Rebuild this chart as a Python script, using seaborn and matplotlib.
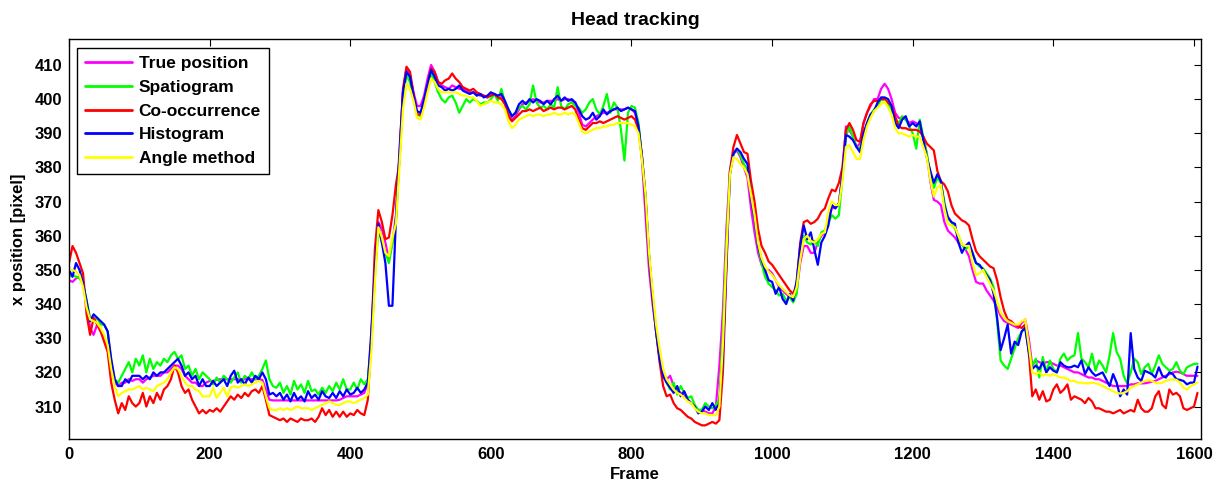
import numpy as np
import pandas as pd
import matplotlib
matplotlib.use("Agg")
import matplotlib.pyplot as plt
import seaborn as sns

# Frame numbers of the sampled head positions
frames = np.arange(0, 1606, 5)

methods = ["True position", "Spatiogram", "Co-occurrence", "Histogram", "Angle method"]
colors = ["#ff00ff", "#00ff00", "#ff0000", "#0000ff", "#ffff00"]

true_position = [
    347, 346.5, 347.5, 348, 346, 340, 333, 331, 334, 332, 330, 327, 321, 317, 316, 317, 317, 318, 317.5, 318,
    318, 317, 318, 318.5, 319, 319, 319, 320, 320, 321, 322, 322, 321, 319, 318, 317, 317, 316, 316, 317,
    317.5, 317.5, 317.8, 318, 318, 318, 318, 318, 318, 318, 318, 318, 318, 318, 318, 317.8, 315, 312, 311.8, 311.8,
    311.8, 311.8, 311.8, 311.8, 311.8, 311.8, 311.8, 311.8, 311.8, 311.8, 311.8, 311.8, 311.8, 311.8, 311.8, 311.8, 311.8, 312, 312.5, 313,
    313, 313, 313, 313.5, 314, 317, 330, 350, 364, 362, 358, 353, 358, 366, 385, 402, 409, 407, 402, 398,
    398, 401, 406, 410, 408, 405, 404, 403.5, 403, 404, 403.5, 403, 403, 402.5, 402, 402, 401.5, 401, 401, 400.5,
    401.5, 401.5, 401, 400.5, 399, 396, 394, 395, 397, 398.5, 399, 399.5, 400, 399.5, 399, 399, 399.5, 399.5, 399.5, 400,
    399.5, 400, 400, 399.5, 399, 396, 392.5, 392, 393, 394, 395, 395.5, 396, 396, 396.5, 397, 397, 397, 397, 397.5,
    397, 396, 392, 382, 366, 350, 340, 332, 325, 320, 318, 319, 316, 315, 314, 313.5, 312, 311, 310, 309,
    309, 308.5, 308, 308, 310, 322, 338, 362, 379, 384, 385, 383, 380, 377, 368, 361, 355, 351.5, 350, 350,
    349, 347, 345, 344, 343, 342, 341.5, 344, 352, 357, 357, 355, 355, 358, 360, 361, 365, 368, 368.5, 369,
    378, 392, 391, 389, 386, 387, 393, 396, 398, 400, 400, 403, 404.5, 403, 400, 396, 394.5, 394.5, 394, 393,
    393.5, 393, 392, 389, 384, 376, 370.5, 370, 369, 364, 361.5, 360.5, 359.5, 358, 357.5, 356, 354, 350, 346.5, 346,
    346, 344, 342.5, 341, 339, 336.5, 335, 334.5, 334, 333.5, 333, 334.5, 335.5, 330, 322, 323.5, 323, 322.5, 323, 323,
    322.5, 322, 322, 321.5, 321, 320.5, 320, 320, 319.5, 319, 318.5, 318.5, 318, 318, 317.5, 317, 316.5, 316, 316, 316,
    316, 316, 316.5, 316.5, 316.8, 316.8, 316.8, 317, 317.3, 317.5, 318, 318.5, 319, 319.5, 320, 320.2, 320, 319.5, 319, 319,
    319, 319,
]

spatiogram = [
    348, 348.5, 348, 347.5, 346, 341, 336, 335, 336, 334, 334, 332, 323, 318, 317, 319, 321, 323, 320, 324,
    322, 325, 320, 324, 321, 323, 322, 324, 323, 325, 326, 324, 325, 321, 322, 319, 321, 318, 320, 319,
    318, 316.5, 318.5, 317, 319, 318, 317, 318.5, 320, 317, 319, 318, 320, 318, 319, 321, 323.5, 318, 316, 315.5,
    317, 314, 316, 313.5, 317.5, 315, 316.5, 314, 317.5, 314.5, 315, 313.5, 315.5, 314, 316, 314.5, 317, 315, 318, 315,
    315, 317, 315, 318, 316.5, 318, 328, 348, 362, 358, 355, 352, 358, 364, 383, 400, 407, 405, 400, 395.5,
    395, 399, 404, 407.5, 405, 402, 400, 399, 400.5, 401, 399, 396, 398, 400, 399, 400, 399.5, 398.5, 399, 399,
    400, 401.5, 399.5, 403, 399, 397, 395, 396, 397.5, 398, 397, 398.5, 404, 399, 397.5, 398, 397, 398.5, 397.5, 403.5,
    398, 397, 398.5, 399, 398, 397.5, 396, 397, 399, 400, 397, 395.5, 398, 401.5, 396, 399, 397.5, 391, 382, 396,
    398, 397.5, 393, 383, 372, 354, 342, 332, 324, 319, 317, 315, 317, 313.5, 316, 314, 312.5, 313, 310.5, 309,
    309, 311, 310, 309.5, 310.5, 312, 332, 358, 378, 384, 385.5, 383.5, 381, 379, 372, 365, 357, 352, 348, 346,
    345, 344, 342.5, 343, 341, 342, 340.5, 343, 355, 360, 358, 357.5, 358.5, 357, 361, 361.5, 364, 366, 365, 366,
    377, 389, 392, 389, 386, 385.5, 389.5, 393, 395.5, 397, 398, 400, 399.5, 398.5, 397, 394, 393, 395, 394, 392,
    390, 385.5, 394, 389, 384, 378, 374, 377, 375.5, 370, 365, 364, 362, 360, 357.5, 356, 357, 355, 352, 351,
    350.5, 349, 347.5, 345, 335, 323.5, 322, 321, 324, 327, 330, 332, 333, 327, 322, 324, 318.5, 324.5, 320, 323.5,
    321, 320, 324, 325.5, 323.5, 324.5, 325, 331.5, 324, 323, 321.5, 325.5, 320.5, 323.5, 322, 320, 325, 331.5, 326, 324,
    319, 316.8, 320, 324, 323, 319.5, 321.5, 322.5, 319.5, 322, 325, 322.5, 321.5, 320.5, 321, 323, 320.5, 319.5, 321.5, 322,
    322.5, 322.5,
]

co_occurrence = [
    352, 357, 355, 352, 349, 337, 331, 336, 334, 332, 329, 326, 317, 312, 308, 311, 309, 313, 311, 310,
    311, 314, 310, 313, 311, 314, 312, 315, 316, 318, 322, 320, 316, 314, 315, 312, 310, 308, 309, 308,
    309, 308.5, 309.5, 308.5, 310, 311.5, 313, 312, 313.5, 312.5, 314, 313, 314.5, 315, 314, 316, 312, 307.5, 307, 306.5,
    306, 306.5, 305.5, 306.5, 306, 305.5, 306.5, 306, 306, 306.5, 305.5, 307, 309.5, 307.5, 309, 307, 308.5, 307, 308.5, 307,
    308, 307.5, 309, 308, 307.5, 312, 330, 356, 367.5, 364, 359, 359.5, 366, 375, 381.5, 403, 409.5, 408, 401.5, 395.5,
    395.5, 399, 404, 409, 408, 405, 404.5, 405.5, 406, 407.5, 406, 405, 403.5, 403, 402.5, 403, 402, 401.5, 401, 400.5,
    401, 401.5, 400.5, 400, 398.5, 395, 393.5, 394.5, 395.5, 396.5, 396.5, 397, 396.5, 397, 397.5, 396.5, 397, 397.5, 397, 397.5,
    397.5, 397, 397.5, 398, 397, 394, 391.5, 391, 392, 393, 393, 393.5, 393, 393.5, 394, 394.5, 395, 394.5, 394, 394.5,
    395, 394, 391, 383, 371, 354, 342, 332, 323, 316, 313, 313.5, 311, 309.5, 309, 308, 307, 306.5, 305.5, 305,
    304.5, 304.5, 305, 305.5, 305, 306, 320, 350, 379, 386, 389.5, 387, 384.5, 384, 376, 370, 362, 357, 355, 352.5,
    351.5, 350, 348.5, 347, 345.5, 344, 343, 346, 358, 364, 364.5, 363.5, 364, 365, 367, 368, 371, 373.5, 373, 375.5,
    380, 391, 393, 391, 388, 387.5, 393, 396, 398.5, 399.5, 399.5, 400, 400, 399, 398, 395, 392, 391.5, 391.5, 391,
    391, 391, 390.5, 389, 387, 386, 385, 379, 376, 375, 373, 369, 366.5, 365.5, 364.5, 364, 363, 359, 355.5, 354,
    353, 352, 351, 350.5, 347, 342, 338, 335.5, 335, 334, 333.5, 333, 334, 326, 313, 315, 312, 314.5, 311.5, 312,
    315, 316.5, 314, 315, 316.5, 312, 313, 312.5, 312, 311, 312.5, 311.5, 309.5, 309.5, 309, 308.5, 308.5, 308, 308.5, 309,
    308, 308.5, 309, 308.5, 312, 309.5, 308.5, 308.5, 309.5, 313, 314.5, 310.5, 309.5, 315, 313.5, 314, 313, 309.5, 309, 309.5,
    310, 314,
]

histogram = [
    350, 348, 352, 350, 346, 341, 335, 337, 336, 335, 334, 332, 324, 318, 316, 316, 318, 317, 319, 319,
    319, 318, 319, 318, 320, 319, 320, 320, 321, 322, 323, 324, 322, 319, 320, 318, 319, 316, 318, 316,
    316, 317.5, 316, 317, 318, 316, 319, 320.5, 317, 318, 316.5, 318.5, 317, 319, 318, 320, 318, 313.5, 314, 313,
    314, 312, 313.5, 311.5, 314, 312, 313, 311.5, 314.5, 312.5, 313.5, 312, 314.5, 313, 312.5, 314, 312.5, 314.5, 313, 315,
    313.5, 314, 315.5, 314, 315, 317, 332, 350, 363.5, 358, 352, 339.5, 339.5, 365, 384, 402, 408, 406.5, 401, 396.5,
    396, 400, 404.5, 408.5, 406.5, 404, 403.5, 402.5, 403, 402.5, 403, 404, 402.5, 402, 401.5, 402, 401, 401.5, 400.5, 401,
    402, 401.5, 401, 401.5, 399.5, 397, 395, 396, 398.5, 399.5, 398.5, 400, 399, 400, 399.5, 398.5, 399.5, 398.5, 400, 401,
    399.5, 400.5, 399.5, 400, 399, 397, 395, 394, 394.5, 396, 394, 395, 397, 395.5, 396.5, 397, 397.5, 396.5, 397, 397.5,
    397, 396.5, 392, 383, 371, 354, 342, 332, 324, 319, 317, 315.5, 314, 316, 313, 314.5, 312, 311, 310, 308,
    308.5, 310, 309, 311, 309, 311, 325, 352, 378, 384, 385.5, 384.5, 382.5, 381, 371, 365, 357, 353, 350, 347,
    346.5, 343, 345, 341.5, 340, 343, 341, 347, 357, 363, 359, 361, 356, 351.5, 358, 360, 363, 369, 368, 369.5,
    378, 389.5, 389, 388, 386, 384.5, 390, 393, 395.5, 396.5, 399, 400.5, 400.5, 400, 398, 393, 391.5, 394, 395, 392,
    393, 392, 393.5, 388, 383, 379, 375.5, 378, 376, 369, 365.5, 364, 363.5, 358, 355, 357, 358, 355, 352, 351.5,
    350, 348.5, 347, 343, 336, 326.5, 330, 334, 325.5, 329, 328, 332, 333, 326, 321, 322, 321, 323, 320, 321.5,
    320.5, 320, 323, 322, 321.5, 321.5, 322, 321.5, 323.5, 319.5, 321.5, 320, 319, 319.5, 320, 318, 316, 319.5, 317, 313,
    315, 313.5, 331.5, 321, 318.5, 317.5, 320.5, 320, 319.5, 318.5, 321.5, 319, 318.5, 320, 319.5, 318, 317.8, 317.5, 316.5, 317,
    317, 321.7,
]

angle_method = [
    350, 350, 349.5, 348.5, 345, 339, 335.5, 335, 334.5, 333, 331, 328, 321, 316, 313, 314, 314.5, 315, 315, 315.5,
    316, 315, 315.5, 315, 314.5, 316, 316.5, 317, 318, 320, 321.5, 321, 319, 317, 316, 316, 315, 314.5, 313, 313,
    313, 315.5, 312.5, 314, 315.5, 313, 315.5, 316, 315.5, 316, 316.5, 316, 316.5, 317, 317.5, 317, 313, 309.5, 309, 309,
    309.5, 309, 309.5, 309, 309.5, 310, 309.5, 309.5, 309.5, 309, 309.5, 310, 310.5, 311, 311.5, 311, 310.5, 310.5, 311, 311.5,
    311.5, 311, 311.5, 312, 312.5, 313.5, 326, 346, 362.5, 359.5, 355, 354, 359.5, 363.5, 380, 397, 404.5, 403, 399.5, 394.5,
    394, 397.5, 402, 406, 405, 403, 402, 402, 402, 402, 402, 401.5, 401, 401, 400.5, 400.5, 399.5, 398, 398.5, 399,
    399.5, 399, 399, 398.5, 397, 393.5, 391.5, 392.5, 394, 394.5, 395, 395.5, 395, 395.5, 395.5, 395, 395.5, 395.5, 396, 395.5,
    395.5, 396, 395.5, 396, 395.5, 393, 390.5, 390, 390.5, 391, 391.5, 391.5, 392, 392, 392.5, 392.5, 393, 393, 393, 393,
    392.5, 392, 390, 382, 372, 355, 344, 334, 327, 321, 318, 316.5, 315, 314, 313.5, 312.5, 311.5, 311, 309.5, 308.5,
    308, 308, 307.5, 307.5, 307.5, 310, 328, 355, 378, 383, 382.5, 381, 380, 378, 372, 366, 358, 353.5, 351, 349.5,
    348.5, 347, 345.5, 344.5, 343.5, 342.5, 342, 345, 353, 359, 360, 358.5, 358, 359, 360.5, 361, 367, 370, 369, 369,
    376, 386, 386.5, 384.5, 382.5, 382.5, 388, 392, 394.5, 396.5, 397.5, 398.5, 399.3, 397.5, 395.5, 391.5, 390, 390, 389.5, 389,
    389.5, 389, 389, 386, 383, 376.5, 371.5, 374, 375, 368, 363.5, 363, 362.5, 360, 357.5, 357, 357, 352, 348.5, 349,
    350, 348, 346, 344, 341, 337.5, 336, 335, 334.5, 334, 334, 335, 335.5, 328, 320, 319.5, 320, 319, 319.5, 319,
    319.5, 319, 318.5, 318.5, 318, 317.5, 317.5, 317, 317, 316.8, 316.8, 317, 316.8, 316.5, 316, 315.5, 315, 314.5, 314, 313.8,
    314, 314.5, 315.5, 316, 316.5, 317, 317.5, 317.8, 317.5, 317, 316.8, 317, 317.5, 317.8, 318, 317.8, 317, 315.5, 315, 316,
    316.5, 317,
]

series = [true_position, spatiogram, co_occurrence, histogram, angle_method]
df = pd.concat(
    [pd.DataFrame({"Frame": frames, "x position": vals, "Method": name})
     for name, vals in zip(methods, series)],
    ignore_index=True,
)

sns.set_style("white")
plt.rcParams["font.family"] = ["Liberation Sans", "DejaVu Sans"]
plt.rcParams["font.weight"] = "bold"
plt.rcParams["axes.labelweight"] = "bold"
plt.rcParams["axes.titleweight"] = "bold"
plt.rcParams["text.color"] = "black"
plt.rcParams["axes.labelcolor"] = "black"

fig = plt.figure(figsize=(12.25, 4.86), dpi=100)
ax = fig.add_axes([69 / 1225, 1 - 439 / 486, (1201 - 69) / 1225, 400 / 486])

sns.lineplot(
    data=df, x="Frame", y="x position", hue="Method", hue_order=methods,
    palette=dict(zip(methods, colors)), linewidth=1.6, estimator=None,
    sort=False, ax=ax,
)

ax.set_xlim(0, 1610)
ax.set_ylim(300.5, 417.6)
ax.set_xticks(np.arange(0, 1601, 200))
ax.set_yticks(np.arange(310, 411, 10))
ax.tick_params(direction="in", length=5, width=0.8, top=True, right=True,
               labelsize=12, colors="black", labelcolor="black")
ax.tick_params(axis="x", pad=6)
ax.tick_params(axis="y", pad=5)
for lbl in ax.get_xticklabels() + ax.get_yticklabels():
    lbl.set_fontweight("bold")
for sp in ax.spines.values():
    sp.set_color("black")
    sp.set_linewidth(1.0)

ax.set_title("Head tracking", fontsize=14, fontweight="bold", pad=10, color="black")
ax.set_xlabel("Frame", fontsize=12, fontweight="bold", labelpad=3, color="black")
ax.set_ylabel("x position [pixel]", fontsize=12, fontweight="bold", labelpad=6, color="black")

handles, labels = ax.get_legend_handles_labels()
leg = ax.legend(
    handles, labels, loc="upper left", bbox_to_anchor=(8 / 1132, 1 - 9 / 400),
    borderaxespad=0, frameon=True, fancybox=False, edgecolor="black",
    framealpha=1, handlelength=2.7, handletextpad=0.4, labelspacing=0.5,
    borderpad=0.45, prop={"weight": "bold", "size": 12.5},
)
leg.get_frame().set_linewidth(1.0)
for ln in leg.get_lines():
    ln.set_linewidth(2.0)
for txt in leg.get_texts():
    txt.set_color("black")

fig.savefig("out.png", dpi=100)
